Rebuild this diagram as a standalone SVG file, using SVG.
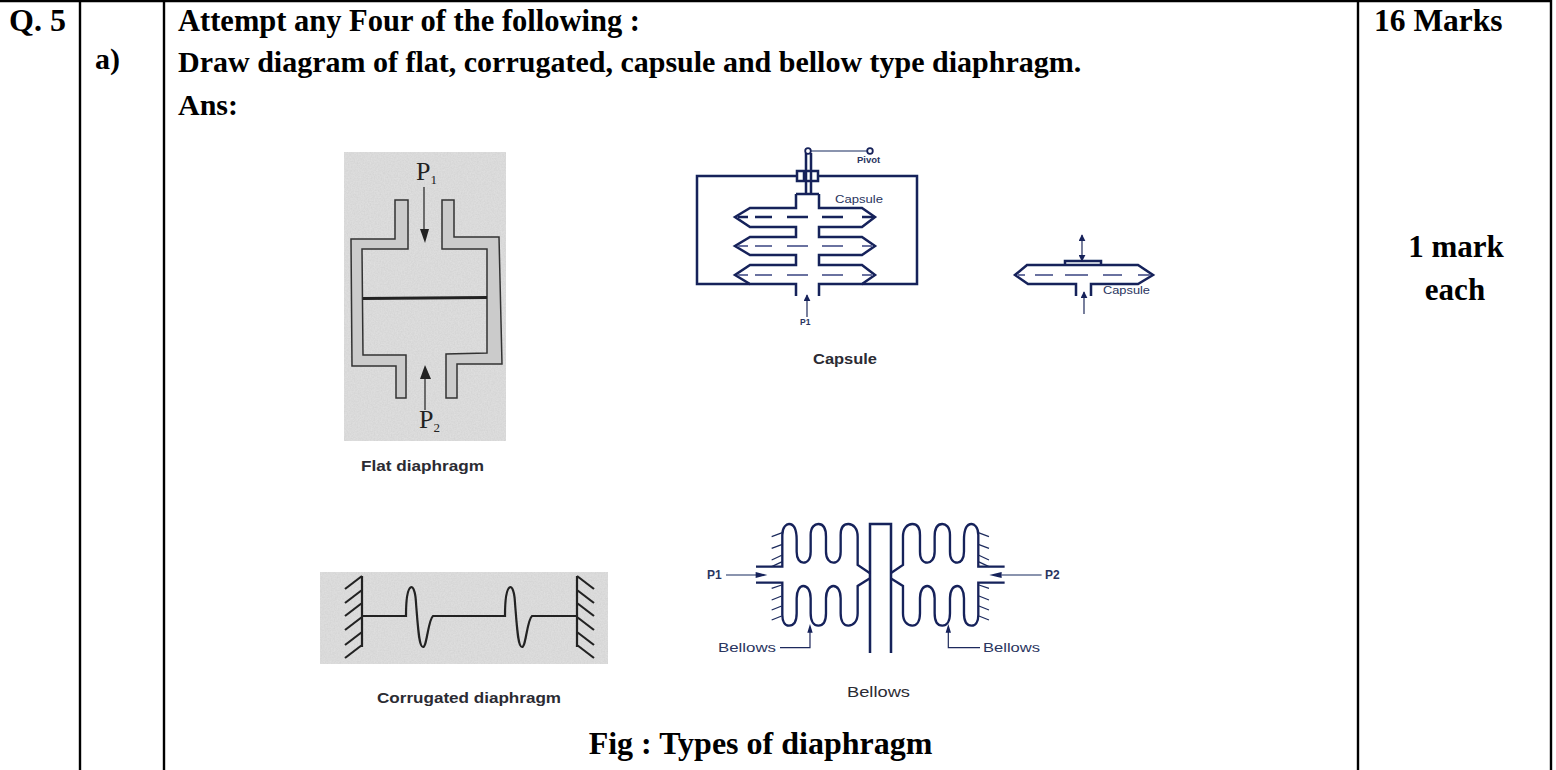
<svg xmlns="http://www.w3.org/2000/svg" width="1556" height="770" viewBox="0 0 1556 770">
<style>
.t{font-family:"Liberation Serif","Times New Roman",serif;font-weight:bold;font-size:30px;fill:#000}
.rule{stroke:#000;stroke-width:2.4;fill:none}
.g{font-family:"Liberation Sans",Arial,sans-serif;fill:#2b2b33}
.n{font-family:"Liberation Sans",Arial,sans-serif;fill:#2a3560}
.ink{fill:none;stroke:#14205a;stroke-width:2.500}
.thin{fill:none;stroke:#1c2a5c;stroke-width:1.200}
.z{fill:none;stroke:#14205a;stroke-width:7}
.zt{fill:none;stroke:#1c2a5c;stroke-width:3.600}
.zh{fill:#14205a}
.wall{fill:#cbcbcb;stroke:#333;stroke-width:1.500}
.p{font-family:"Liberation Serif",serif;fill:#222}
</style>
<defs>
<filter id="noise" x="0" y="0" width="100%" height="100%">
<feTurbulence type="fractalNoise" baseFrequency="0.7" numOctaves="2" seed="4" result="n"/>
<feColorMatrix in="n" type="matrix" values="0 0 0 0 0.5 0 0 0 0 0.5 0 0 0 0 0.5 0.5 0 0 0 -0.1" result="c"/>
<feComposite in="c" in2="SourceGraphic" operator="in" result="m"/>
<feMerge><feMergeNode in="SourceGraphic"/><feMergeNode in="m"/></feMerge>
</filter>
<filter id="soft" x="-5%" y="-5%" width="110%" height="110%"><feGaussianBlur stdDeviation="0.450"/></filter>
<marker id="navy" viewBox="0 0 10 10" refX="9" refY="5" markerWidth="7" markerHeight="7" markerUnits="userSpaceOnUse" orient="auto-start-reverse"><path d="M0 0L10 5L0 10z" fill="#14205a"/></marker>
<g id="half">
<path class="z" d="M198 170H277V75C277 50 290 42 297 42C315 42 320 60 320 90V125C320 148 330 158 340 158C352 158 362 148 362 125V75C362 50 375 42 385 42C400 42 408 55 408 80V125C408 148 420 158 430 158C442 158 452 148 452 125V75C452 50 462 42 475 42C490 42 503 55 503 80V165L540 190"/>
<path class="z" d="M198 218H277V315C277 335 285 347 297 347C312 347 320 335 320 310V265C320 240 330 228 340 228C352 228 362 240 362 265V310C362 335 372 347 385 347C400 347 408 335 408 310V265C408 240 420 228 430 228C442 228 452 240 452 265V310C452 335 462 347 475 347C490 347 503 335 503 310V228L540 205"/>
<path class="zt" d="M245 80L277 68M245 115L277 103M245 150L277 135M245 170L277 155M245 235L275 225M245 270L275 258M245 300L275 288M245 330L275 318"/>
</g>
</defs>
<rect width="1556" height="770" fill="#fff"/>

<g id="table">
<path class="rule" d="M0 1H1551M80 0V770M164 0V770M1358 0V770M1551 0V770"/>
<text class="t" x="9" y="31" style="font-size:32px">Q. 5</text>
<text class="t" x="95" y="69">a)</text>
<text class="t" x="178" y="31" style="font-size:30.500px">Attempt any Four of the following :</text>
<text class="t" x="178" y="72">Draw diagram of flat, corrugated, capsule and bellow type diaphragm.</text>
<text class="t" x="178" y="115">Ans:</text>
<text class="t" x="1374" y="31" style="font-size:31.500px">16 Marks</text>
<text class="t" x="1456" y="257" text-anchor="middle" style="font-size:31px">1 mark</text>
<text class="t" x="1455" y="300" text-anchor="middle" style="font-size:31px">each</text>
<text class="t" x="760.500" y="754" text-anchor="middle" style="font-size:32px">Fig : Types of diaphragm</text>
</g>

<g id="flat-diaphragm">
<rect x="344" y="152" width="162" height="289" fill="#dfdfdf" filter="url(#noise)"/>
<g filter="url(#soft)">
<path class="wall" d="M395 200H408V249H362L363 355H406V398H396V366H352L351 239H395Z"/>
<path class="wall" d="M442 200H454V237H499L502 364H457V398H446V354L487 353V249H442Z"/>
<path d="M363 298.500L487 297.500" stroke="#222" stroke-width="3.200" fill="none"/>
<path d="M424 187V232M425 410V374" stroke="#333" stroke-width="1.300" fill="none"/>
<path d="M420 229L429 229L425 243Z M420 379L431 379L425 365Z" fill="#222"/>
</g>
<text class="p" x="416" y="180" font-size="26">P<tspan font-size="13" dy="4">1</tspan></text>
<text class="p" x="419" y="428" font-size="26">P<tspan font-size="13" dy="4">2</tspan></text>
<text class="g" x="361" y="471" font-size="15" font-weight="bold" textLength="123" lengthAdjust="spacingAndGlyphs">Flat diaphragm</text>
</g>

<g id="capsule-assembly">
<g filter="url(#soft)">
<path class="ink" d="M797 176H697V284H750M818 176H917V284H862"/>
<path class="ink" d="M796 194H819M796 194V208H750L735 217L750 227H796V237H750L735 246L750 255H796V265H750L735 275L750 284H796V296"/>
<path class="ink" d="M819 194V208H862L875 217L862 227H819V237H862L875 246L862 255H819V265H862L875 275L862 284H819V296"/>
<path d="M738 217H748M755 217H772M787 217H808M822 217H843M862 217H873" stroke="#14205a" stroke-width="2.500" fill="none"/>
<path d="M738 246H748M755 246H772M787 246H808M822 246H843M862 246H873M738 275H748M755 275H772M787 275H808M822 275H843M862 275H873" stroke="#6a72a0" stroke-width="2" fill="none"/>
<path class="ink" d="M806 153V194M811 153V194M797 171H818V181H797ZM804 171V181"/>
<circle cx="808" cy="151" r="2.800" fill="#fff" stroke="#14205a" stroke-width="1.800"/>
<circle cx="870" cy="151" r="2.800" fill="#fff" stroke="#14205a" stroke-width="1.800"/>
<path class="thin" d="M811 151H867"/>
<path class="thin" d="M807 317V295" marker-end="url(#navy)"/>
</g>
<text class="n" x="857" y="163" font-size="9.500" font-weight="bold">Pivot</text>
<text class="n" x="835" y="203" font-size="10.500" textLength="48" lengthAdjust="spacingAndGlyphs">Capsule</text>
<text class="n" x="800" y="325" font-size="8.500" font-weight="bold">P1</text>
<text class="g" x="813" y="364" font-size="14.500" font-weight="bold" textLength="64" lengthAdjust="spacingAndGlyphs">Capsule</text>
</g>

<g id="single-capsule">
<g filter="url(#soft)">
<path class="ink" d="M1065 265H1027L1015 275L1028 284H1076V296M1091 296V284H1138L1153 275L1138 265H1065V261H1101V265"/>
<path d="M1017 275H1025M1035 275H1053M1065 275H1088M1103 275H1122M1138 275H1150" stroke="#6a72a0" stroke-width="2" fill="none"/>
<path class="thin" d="M1082 261V235" marker-end="url(#navy)" marker-start="url(#navy)"/>
<path class="thin" d="M1084 314V292" marker-end="url(#navy)"/>
</g>
<text class="n" x="1103" y="294" font-size="10.500" textLength="47" lengthAdjust="spacingAndGlyphs">Capsule</text>
</g>

<g id="corrugated-diaphragm">
<rect x="320" y="572" width="288" height="92" fill="#dfdfdf" filter="url(#noise)"/>
<g filter="url(#soft)" fill="none" stroke="#222" stroke-width="2.200">
<path d="M362 576V647M362 576L345 589M362 590L345 603M362 603L345 616M362 617L345 630M362 632L345 645M362 645L345 658"/>
<path d="M577 576V647M577 576L594 589M577 590L594 603M577 603L594 616M577 617L594 630M577 632L594 645M577 645L594 658"/>
<path d="M362 616H406C406 580 415 580 416 603C418 628 419 647 423 647C427 647 428 620 433 616H505C505 580 514 580 515 603C517 628 518 647 522 647C526 647 527 620 532 616H577"/>
</g>
<text class="g" x="377" y="703" font-size="14" font-weight="bold" textLength="184" lengthAdjust="spacingAndGlyphs">Corrugated diaphragm</text>
</g>

<g id="bellows">
<g filter="url(#soft)">
<path class="ink" d="M870 653V524H891V653"/>
<g transform="translate(690 510) scale(.3333)">
<use href="#half"/>
<use href="#half" transform="matrix(-1 0 0 1 1142 0)"/>
<path class="zt" d="M108 195H200M1055 195H935M270 413H360V365M870 413H775V365"/>
<path class="zh" d="M197 186L232 195L197 204ZM935 186L898 195L935 204ZM352 368L360 342L368 368ZM767 368L775 342L783 368Z"/>
</g>
</g>
<text class="n" x="707" y="579" font-size="12" font-weight="bold">P1</text>
<text class="n" x="1045" y="579" font-size="12" font-weight="bold">P2</text>
<text class="n" x="718" y="652" font-size="13" textLength="58" lengthAdjust="spacingAndGlyphs">Bellows</text>
<text class="n" x="983" y="652" font-size="13" textLength="57" lengthAdjust="spacingAndGlyphs">Bellows</text>
<text class="g" x="847" y="697" font-size="14" textLength="63" lengthAdjust="spacingAndGlyphs">Bellows</text>
</g>

<g id="connectors"></g>
</svg>
